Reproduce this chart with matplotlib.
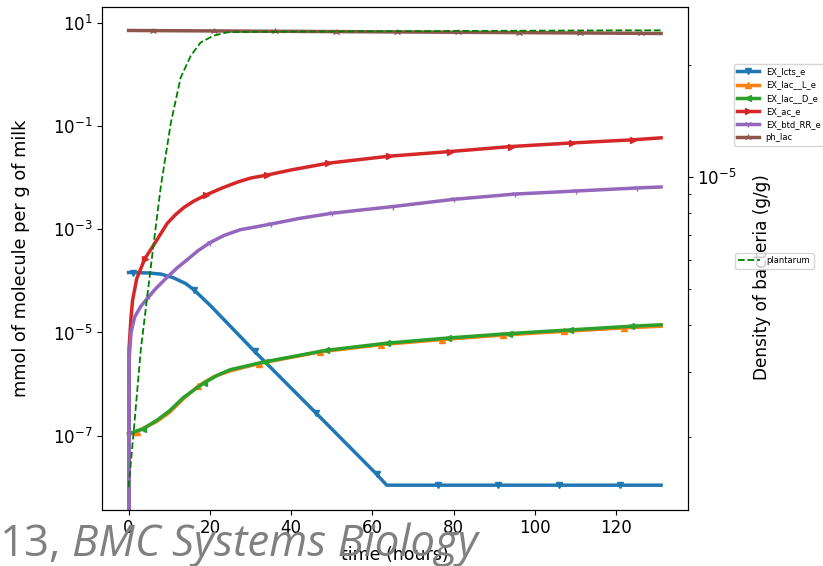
import matplotlib as mpl
mpl.use('Agg')
import matplotlib.pyplot as plt
import matplotlib.ticker as ticker

# Values (time in hours)
t_lcts = [0, 1, 5, 8, 11, 14, 16, 20, 31, 46, 61, 63.5, 76, 91, 106, 121, 131]
EX_lcts_e = [1.45e-4, 1.45e-4, 1.42e-4, 1.35e-4, 1.15e-4, 8.9e-5, 6.8e-5, 3.4e-5,
             4.3e-6, 2.8e-7, 1.8e-8, 1.1e-8, 1.1e-8, 1.1e-8, 1.1e-8, 1.1e-8, 1.1e-8]
mk_lcts = [1, 16, 31, 46, 61, 76, 91, 106, 121]

t_lacL = [0, 2, 7, 10, 13.5, 17, 21, 25, 32, 47, 62, 77, 92, 107, 122, 131]
EX_lac__L_e = [1.05e-7, 1.2e-7, 1.9e-7, 2.8e-7, 5.2e-7, 9.0e-7, 1.4e-6, 1.8e-6, 2.5e-6,
               4.2e-6, 5.8e-6, 7.3e-6, 8.9e-6, 1.05e-5, 1.23e-5, 1.32e-5]
mk_lacL = [2, 17, 32, 47, 62, 77, 92, 107, 122]

t_lacD = [0, 3.5, 7, 10, 13.5, 18.5, 22, 25, 33.5, 48.5, 63.5, 78.5, 93.5, 108.5, 123.5, 131]
EX_lac__D_e = [1.1e-7, 1.35e-7, 2e-7, 3e-7, 5.5e-7, 1.05e-6, 1.5e-6, 1.9e-6, 2.7e-6,
               4.5e-6, 6.2e-6, 7.8e-6, 9.5e-6, 1.12e-5, 1.32e-5, 1.41e-5]
mk_lacD = [3.5, 18.5, 33.5, 48.5, 63.5, 78.5, 93.5, 108.5, 123.5]

t_ac = [0, 0.1, 0.6, 1, 2, 4, 6, 9.5, 11.5, 13.5, 16, 19, 23, 27, 30, 34, 40, 49,
        64, 79, 94, 109, 124, 131]
EX_ac_e = [0, 4.7e-6, 2.0e-5, 4.3e-5, 1.1e-4, 2.7e-4, 4.7e-4, 1.3e-3, 1.9e-3, 2.6e-3,
           3.5e-3, 4.6e-3, 6.3e-3, 8.3e-3, 9.8e-3, 1.12e-2, 1.41e-2, 1.9e-2,
           2.6e-2, 3.2e-2, 4.0e-2, 4.7e-2, 5.4e-2, 5.9e-2]
mk_ac = [4, 19, 34, 49, 64, 79, 94, 109, 124]

t_btd = [0, 0.15, 0.6, 1.5, 3, 5, 6.7, 9.6, 12, 14.5, 17, 20, 23.5, 27.5, 31, 35, 42,
         50, 57, 65, 80, 95, 110, 125, 131]
EX_btd_RR_e = [0, 3.2e-6, 1e-5, 2e-5, 3.2e-5, 5e-5, 7.1e-5, 1.2e-4, 1.8e-4, 2.6e-4,
               3.8e-4, 5.5e-4, 7.6e-4, 9.8e-4, 1.1e-3, 1.26e-3, 1.62e-3,
               2.04e-3, 2.35e-3, 2.75e-3, 3.8e-3, 4.8e-3, 5.5e-3, 6.3e-3, 6.6e-3]
mk_btd = [5, 20, 35, 50, 65, 80, 95, 110, 125]

t_ph = [0, 6, 21, 36, 51, 66, 81, 96, 111, 126, 131]
ph_lac = [7.1, 7.05, 6.95, 6.85, 6.75, 6.65, 6.55, 6.45, 6.35, 6.25, 6.2]
mk_ph = [6, 21, 36, 51, 66, 81, 96, 111, 126]

t_plant = [0, 1.3, 3, 4.7, 6, 7.9, 10.4, 12.8, 15.3, 17.7, 20.9, 24.3, 27.5, 40, 60, 80, 100, 120, 131]
plantarum = [1.47e-6, 2.1e-6, 3.44e-6, 4.89e-6, 6.41e-6, 9.4e-6, 1.40e-5, 1.85e-5, 2.12e-5,
             2.30e-5, 2.40e-5, 2.45e-5, 2.455e-5, 2.46e-5, 2.465e-5, 2.47e-5, 2.475e-5, 2.48e-5, 2.48e-5]

series = [
    (t_lcts, EX_lcts_e, mk_lcts, 'EX_lcts_e', 'tab:blue', 'v'),
    (t_lacL, EX_lac__L_e, mk_lacL, 'EX_lac__L_e', 'tab:orange', '^'),
    (t_lacD, EX_lac__D_e, mk_lacD, 'EX_lac__D_e', 'tab:green', '<'),
    (t_ac, EX_ac_e, mk_ac, 'EX_ac_e', 'tab:red', '>'),
    (t_btd, EX_btd_RR_e, mk_btd, 'EX_btd_RR_e', 'tab:purple', '1'),
    (t_ph, ph_lac, mk_ph, 'ph_lac', 'tab:brown', '2'),
]

plt.rcParams['font.size'] = 12

fig = plt.figure(figsize=(8.23, 5.66), dpi=100)
ax = fig.add_axes([0.1239, 0.0998, 0.7117, 0.8873])
ax2 = ax.twinx()

for t, y, mk, name, col, m in series:
    idx = [t.index(v) for v in mk]
    ax.plot(t, y, color=col, lw=2.5, marker=m, markersize=5, markevery=idx, label=name)

ax.set_yscale('log')
ax.set_xlim(-6.55, 137.55)
ax.set_ylim(10**-8.43, 10**1.30)
ax.yaxis.set_major_locator(ticker.FixedLocator([1e1, 1e-1, 1e-3, 1e-5, 1e-7]))
ax.yaxis.set_minor_locator(ticker.NullLocator())
ax.set_xlabel('time (hours)', fontsize=12.5)
ax.set_ylabel('mmol of molecule per g of milk', fontsize=12.8)
ax.yaxis.set_label_coords(-0.123, 0.5)
ax.xaxis.set_label_coords(0.5, -0.073)

ax2.plot(t_plant, plantarum, color='green', ls='--', lw=1.3, label='plantarum')
ax2.set_yscale('log')
ax2.set_ylim(1.28e-6, 2.86e-5)
ax2.set_ylabel('Density of bacteria (g/g)', fontsize=12.2)
ax2.yaxis.set_label_coords(1.112, 0.463)

ax.legend(loc='upper left', bbox_to_anchor=(734/823, 1-64/566), bbox_transform=fig.transFigure,
          borderaxespad=0, fontsize=6, handlelength=2.6)
ax2.legend(loc='upper left', bbox_to_anchor=(735/823, 1-253/566), bbox_transform=fig.transFigure,
           borderaxespad=0, fontsize=6, handlelength=2.6)

# slide caption that overlaps the screenshot
fig.text(0/823, 1-556/566, '13,', fontsize=31.5, color='#808080', family='Open Sans',
         ha='left', va='baseline')
fig.text(72/823, 1-556/566, 'BMC Systems Biology', fontsize=31.5, color='#808080',
         family='Open Sans', style='italic', ha='left', va='baseline')

fig.savefig('out.png', dpi=100)
